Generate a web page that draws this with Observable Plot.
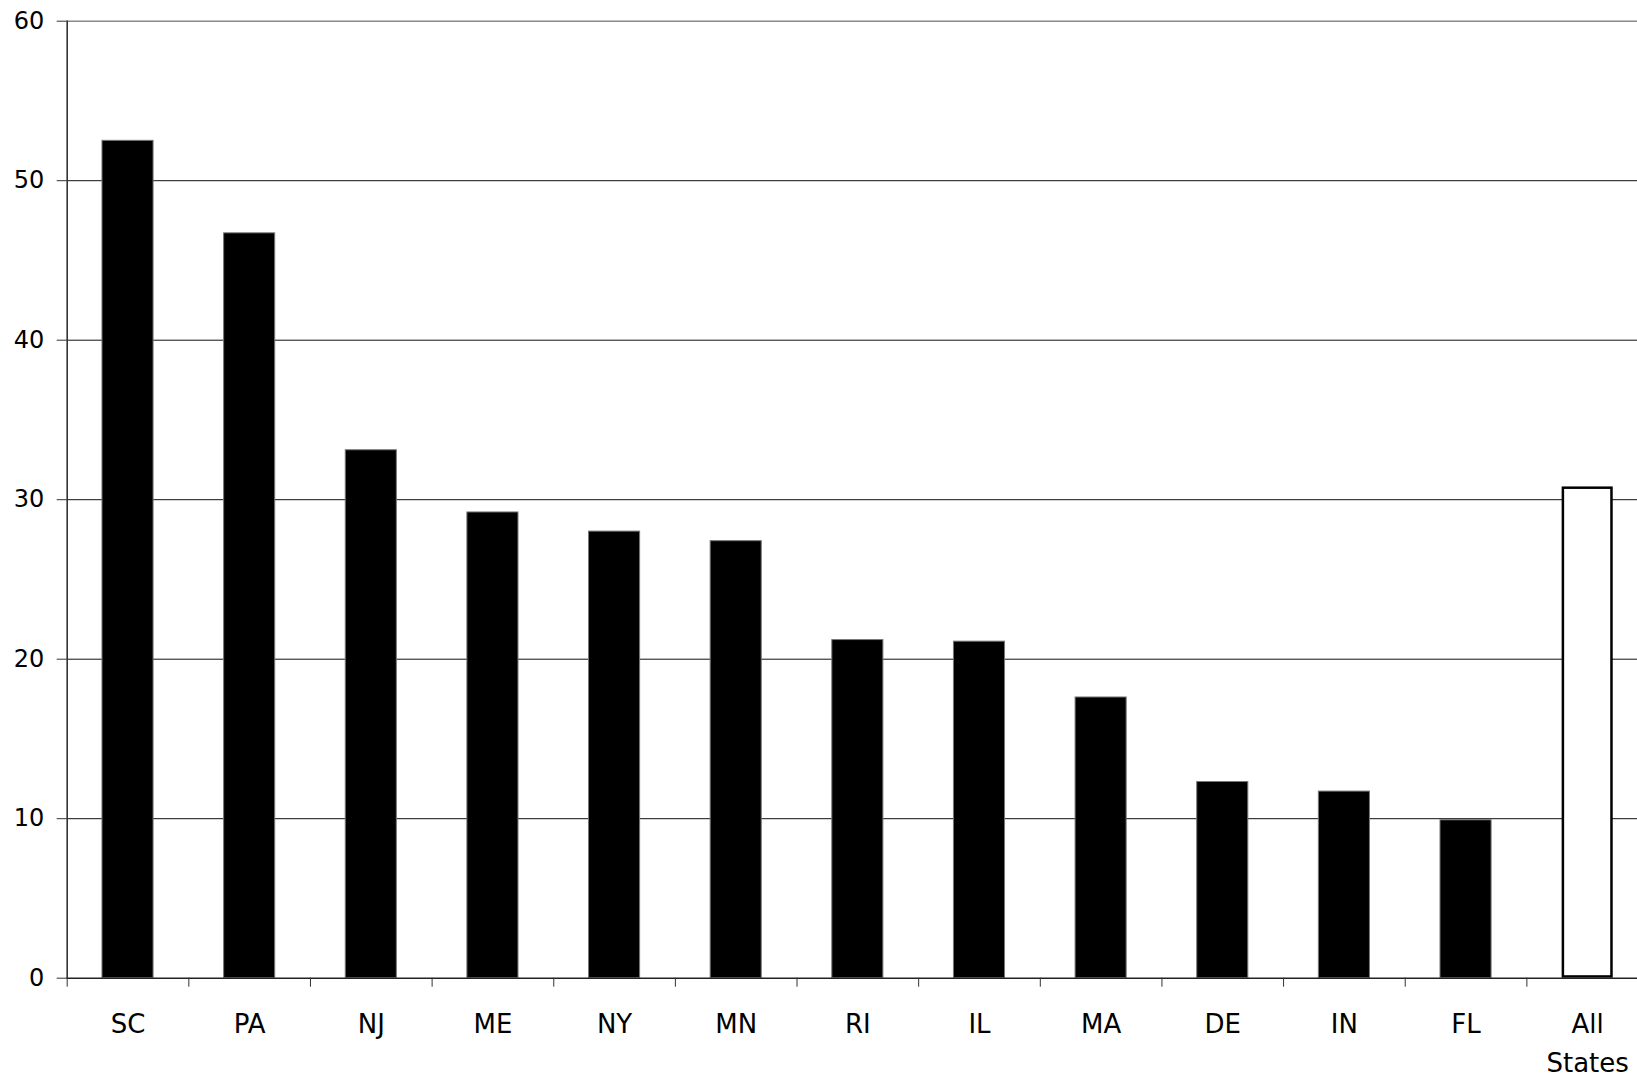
<!DOCTYPE html>
<html><head><meta charset="utf-8">
<script src="https://cdn.jsdelivr.net/npm/d3@7"></script>
<script src="https://cdn.jsdelivr.net/npm/@observablehq/plot@0.6"></script>
<style>html,body{margin:0;padding:0;background:#fff;overflow:hidden}</style>
</head><body><div id="chart"></div>
<script>
const states = ["SC","PA","NJ","ME","NY","MN","RI","IL","MA","DE","IN","FL","All States"];
const values = [52.5,46.7,33.1,29.2,28.0,27.4,21.2,21.1,17.6,12.3,11.7,9.9,30.8];
const yTicks = [0,10,20,30,40,50,60];
const gridTicks = [10,20,30,40,50];

const data = states.map((s,i)=>({state:s, value:values[i], all: s==="All States"}));
const W=1637, H=1077, left=66.7, right=1648;
const step=(right-left)/states.length;

const chart = Plot.plot({
  width:W, height:H, marginLeft:left, marginTop:20.7, marginBottom:99.3, marginRight:0,
  style:{fontFamily:"'DejaVu Sans', sans-serif", background:"#fff", color:"#000", overflow:"hidden"},
  x:{domain:states, range:[left,right], paddingInner:0.58, paddingOuter:0.29, round:false, label:null},
  y:{domain:[0,60], label:null},
  marks:[
    Plot.gridY(gridTicks, {stroke:"#111", strokeOpacity:1, strokeWidth:1}),
    Plot.ruleY([60], {stroke:"#888", strokeWidth:1.5}),
    Plot.barY(data.filter(d=>!d.all), {x:"state", y:"value", fill:"#000", stroke:"#777", strokeWidth:1}),
    Plot.barY(data.filter(d=>d.all), {x:"state", y:"value", fill:"#fff", stroke:"#000", strokeWidth:2.5, inset:1.25}),
    Plot.ruleY([0], {stroke:"#222", strokeWidth:1.6}),
    Plot.frame({anchor:"left", stroke:"#333", strokeWidth:1.6}),
    Plot.axisY(yTicks, {tickSize:10, tickPadding:13, fontSize:24, stroke:"#333", label:null}),
    Plot.axisX(states, {tickSize:9, tickFormat:()=>"", dx:-step/2, stroke:"#333", label:null}),
    Plot.axisX(states, {tickSize:0, tickPadding:27.5, fontSize:26, lineHeight:1.5,
      tickFormat: d => d==="All States" ? "All\nStates" : d, label:null})
  ]
});
document.getElementById("chart").append(chart);
</script></body></html>
